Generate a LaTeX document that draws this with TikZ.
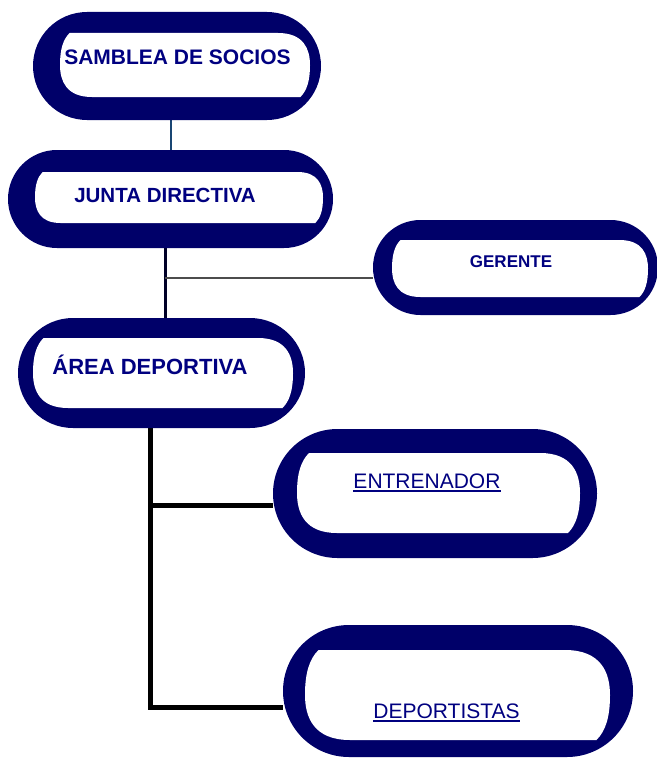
\documentclass[tikz,border=0pt]{standalone}
\usepackage{fontspec}
\setmainfont{Liberation Sans}
\usetikzlibrary{shapes.misc,backgrounds}
\definecolor{navyfill}{RGB}{0,0,105}
\definecolor{navytext}{RGB}{0,0,128}
\definecolor{thinblue}{RGB}{25,70,115}
\definecolor{darkline}{RGB}{0,0,40}
\tikzset{
  ribbonbox/.style={rounded rectangle, fill=navyfill, draw=none, inner sep=0pt},
  boldlabel/.style={text=navytext, inner sep=0pt, font=\bfseries\fontsize{#1}{#1}\selectfont},
  plainlabel/.style={text=navytext, inner sep=0pt, font=\fontsize{#1}{#1}\selectfont},
  thinconn/.style={draw=thinblue, line width=1.5pt},
  midconn/.style={draw=darkline, line width=3pt},
  grayconn/.style={draw=black!70, line width=1.3pt},
  blackconn/.style={draw=black, line width=5pt, line join=miter},
}
\newcommand\innerwhite[4]{%
  \pgfmathsetmacro\hh{#4-#2}%
  \fill[white] ({#1+0.15*\hh},{#2}) -- ({#3-0.5*\hh},{#2})
    .. controls ({#3-0.1*\hh},{#2}) and ({#3},{#2+0.25*\hh}) .. ({#3},{#2+0.5*\hh})
    .. controls ({#3},{#2+0.75*\hh}) and ({#3-0.05*\hh},{#4-0.1*\hh}) .. ({#3-0.15*\hh},{#4})
    -- ({#1+0.5*\hh},{#4})
    .. controls ({#1+0.1*\hh},{#4}) and ({#1},{#4-0.25*\hh}) .. ({#1},{#2+0.5*\hh})
    .. controls ({#1},{#2+0.25*\hh}) and ({#1+0.05*\hh},{#2+0.1*\hh}) .. cycle;}
\begin{document}
\begin{tikzpicture}[x=1pt,y=-1pt]
\useasboundingbox (0,0) rectangle (656,760);
% outer shapes
\node[ribbonbox, minimum width=288pt, minimum height=108pt] (asam) at (177,66) {};
\node[ribbonbox, minimum width=325pt, minimum height=98pt] (junta) at (170.5,199) {};
\node[ribbonbox, minimum width=285pt, minimum height=95pt] (ger) at (515.5,267.5) {};
\node[ribbonbox, minimum width=287pt, minimum height=110pt] (area) at (161.5,373) {};
\node[ribbonbox, minimum width=324pt, minimum height=129pt] (entr) at (435,493.5) {};
\node[ribbonbox, minimum width=350pt, minimum height=132pt] (dep) at (458,691) {};
% inner white faces
\innerwhite{60}{33}{310}{97}
\innerwhite{35}{172}{323}{223}
\innerwhite{392}{240}{648}{297}
\innerwhite{33}{338}{293}{408}
\innerwhite{297}{453}{580}{533}
\innerwhite{305}{650}{610}{740}
% labels
\node[boldlabel=21] (asamT) at (177.5,57) {SAMBLEA DE SOCIOS};
\node[boldlabel=20.5] (juntaT) at (165,195) {JUNTA DIRECTIVA};
\node[boldlabel=17] (gerT) at (511,262) {GERENTE};
\node[boldlabel=22] (areaT) at (150,365) {ÁREA DEPORTIVA};
\node[plainlabel=21, anchor=base] (entrT) at (427,488) {ENTRENADOR};
\node[plainlabel=21, anchor=base] (depT) at (446.5,718) {DEPORTISTAS};
\draw[navytext, line width=1.4pt] ([yshift=-2.8pt]entrT.base west) -- ([yshift=-2.8pt]entrT.base east);
\draw[navytext, line width=1.4pt] ([yshift=-2.8pt]depT.base west) -- ([yshift=-2.8pt]depT.base east);
% connectors
\begin{scope}[on background layer]
\coordinate (jg) at (165,278);
\coordinate (je) at (150,505);
\coordinate (jd) at (150,707);
\draw[thinconn] ([xshift=-6pt]asam.south) -- ([xshift=0.5pt]junta.north);
\draw[midconn] ([xshift=-5.5pt]junta.south) -- ([xshift=3.5pt]area.north);
\draw[grayconn] (jg) -- (ger.west |- jg);
\draw[blackconn] ([xshift=-11.5pt]area.south) -- (jd) -- (dep.west |- jd);
\draw[blackconn] (je) -- (entr.west |- je);
\end{scope}
\end{tikzpicture}
\end{document}
